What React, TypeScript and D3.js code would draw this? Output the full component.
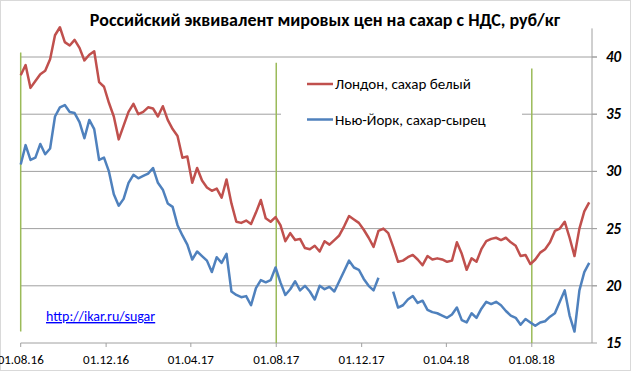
import React from "react";
import * as d3 from "d3";

// weekly observations starting 01.08.2016
const startDate = new Date(2016, 7, 1);
const endDate = new Date(2018, 9, 26);

const london = [
  38.4, 39.3, 37.3, 37.9, 38.5, 38.8, 39.8, 41.9, 42.6, 41.3,
  41.0, 41.5, 40.8, 39.7, 40.2, 40.5, 37.8, 37.4, 36.0, 34.8,
  32.8, 34.0, 35.2, 35.9, 35.0, 35.2, 35.6, 35.5, 34.8, 35.7,
  34.5, 33.7, 33.1, 31.2, 31.3, 29.0, 30.3, 29.2, 28.6, 28.3,
  28.5, 27.7, 29.3, 27.2, 25.6, 25.5, 25.7, 25.4, 26.4, 27.5,
  25.9, 25.6, 26.0, 25.3, 23.9, 24.6, 24.0, 24.1, 23.3, 23.2,
  23.5, 23.0, 23.9, 23.6, 24.0, 24.4, 25.2, 26.1, 25.8, 25.5,
  24.9, 24.2, 23.4, 24.8, 25.0, 24.6, 23.4, 22.1, 22.2, 22.5,
  22.7, 22.3, 21.8, 22.6, 22.3, 22.4, 22.3, 22.1, 22.2, 23.8,
  22.8, 21.4, 22.4, 22.1, 23.2, 23.9, 24.1, 24.2, 24.0, 24.2,
  23.8, 23.5, 22.6, 22.7, 21.9, 22.3, 22.9, 23.2, 23.8, 24.8,
  25.0, 25.6, 24.2, 22.6, 25.0, 26.5, 27.3,
];

const newYork: (number | null)[] = [
  30.6, 32.3, 31.0, 31.2, 32.4, 31.5, 32.0, 34.8, 35.6, 35.8,
  35.2, 35.1, 34.3, 32.9, 34.5, 33.7, 31.0, 31.2, 30.0, 28.0,
  27.0, 27.6, 29.0, 29.7, 29.4, 29.6, 29.8, 30.3, 29.0, 28.4,
  27.2, 26.9, 25.3, 24.4, 23.6, 22.3, 23.0, 22.6, 22.2, 21.2,
  22.5, 22.0, 22.8, 19.5, 19.2, 19.0, 19.1, 18.3, 19.8, 20.5,
  20.3, 20.5, 21.6, 20.3, 19.2, 19.7, 20.4, 19.6, 20.0, 19.5,
  18.8, 20.0, 19.7, 19.9, 19.5, 20.4, 21.3, 22.2, 21.6, 21.4,
  20.6, 20.0, 19.6, 20.7, null, null, 19.5, 18.1, 18.3, 18.8,
  19.1, 18.5, 18.7, 17.9, 17.7, 17.6, 17.4, 17.2, 17.5, 18.1,
  17.0, 16.8, 17.6, 17.2, 18.0, 18.6, 18.4, 18.6, 18.3, 17.8,
  17.4, 17.2, 16.6, 17.1, 16.8, 16.5, 16.8, 16.9, 17.3, 17.6,
  18.6, 19.6, 17.4, 16.0, 19.6, 21.2, 22.0,
];

const yTicks = [15, 20, 25, 30, 35, 40];
const markerDates = [new Date(2016, 7, 1), new Date(2017, 7, 1), new Date(2018, 7, 1)];
const markerTop = [40.4, 39.5, 39.0];
const markerBottom = [16.0, 15, 15];

const seriesNames = ["Лондон, сахар белый", "Нью-Йорк, сахар-сырец"];
const seriesColors = ["#C0504D", "#4F81BD"];

const W = 631;
const H = 371;

export default function App() {
  const x = d3.scaleTime().domain([startDate, endDate]).range([20.7, 592]);
  const y = d3.scaleLinear().domain([15, 42.5]).range([343, 28.4]);
  const dateOf = (i: number) => d3.timeDay.offset(startDate, i * 7);

  const line = d3
    .line<number | null>()
    .defined((d) => d != null)
    .x((_, i) => x(dateOf(i)))
    .y((d) => y(d as number));

  // ticks every 4 months from 01.08.16
  const xTicks = d3.timeMonth.range(startDate, endDate, 4);
  const fmt = d3.timeFormat("%d.%m.%y");
  const font = "Calibri, Carlito, 'Liberation Sans', Arial, sans-serif";

  return (
    <svg width={W} height={H} style={{ position: "absolute", left: 0, top: 0 }} fontFamily={font}>
      <rect x={0.5} y={0.5} width={W - 1} height={H - 1} fill="#fff" stroke="#D9D9D9" />

      {/* gridlines */}
      {yTicks.slice(1).map((t) => (
        <line key={t} x1={x.range()[0]} x2={597} y1={y(t)} y2={y(t)} stroke="#A0A0A0" strokeWidth={1} />
      ))}

      {/* axes */}
      <line x1={592} x2={592} y1={y(42.5)} y2={y(15)} stroke="#A0A0A0" />
      <line x1={x.range()[0]} x2={592} y1={y(15)} y2={y(15)} stroke="#A0A0A0" />
      {xTicks.map((t) => (
        <g key={+t}>
          <line x1={x(t)} x2={x(t)} y1={y(15)} y2={y(15) + 4} stroke="#A0A0A0" />
          <text x={x(t)} y={364} textAnchor="middle" fontSize={13} fill="#000">
            {fmt(t)}
          </text>
        </g>
      ))}
      {yTicks.map((t) => (
        <g key={t}>
          <line x1={592} x2={597} y1={y(t)} y2={y(t)} stroke="#A0A0A0" />
          <text x={606} y={y(t) + 5} fontSize={15} fontWeight="bold" fontStyle="italic" fill="#000">
            {t}
          </text>
        </g>
      ))}

      {/* legend background */}
      <rect x={281} y={60} width={241} height={105} fill="#fff" />

      {/* green markers */}
      {markerDates.map((d, i) => (
        <line
          key={i}
          x1={x(d)}
          x2={x(d)}
          y1={y(markerTop[i])}
          y2={y(markerBottom[i])}
          stroke="#9BBB59"
          strokeWidth={1.5}
        />
      ))}

      {/* series */}
      {[london, newYork].map((s, i) => (
        <path key={i} d={line(s as (number | null)[]) || ""} fill="none" stroke={seriesColors[i]} strokeWidth={2.5} strokeLinejoin="round" />
      ))}

      {/* legend */}
      {seriesNames.map((n, i) => (
        <g key={n} transform={`translate(307, ${84 + i * 35.5})`}>
          <line x1={0} x2={26} y1={0} y2={0} stroke={seriesColors[i]} strokeWidth={2.5} />
          <text x={28} y={5} fontSize={15} fill="#000">
            {n}
          </text>
        </g>
      ))}

      <text x={46} y={321} fontSize={14} fill="#0000FF" textDecoration="underline">
        http://ikar.ru/sugar
      </text>

      <text x={325} y={26} textAnchor="middle" fontSize={18} fontWeight="bold" fill="#000">
        Российский эквивалент мировых цен на сахар с НДС, руб/кг
      </text>
    </svg>
  );
}
